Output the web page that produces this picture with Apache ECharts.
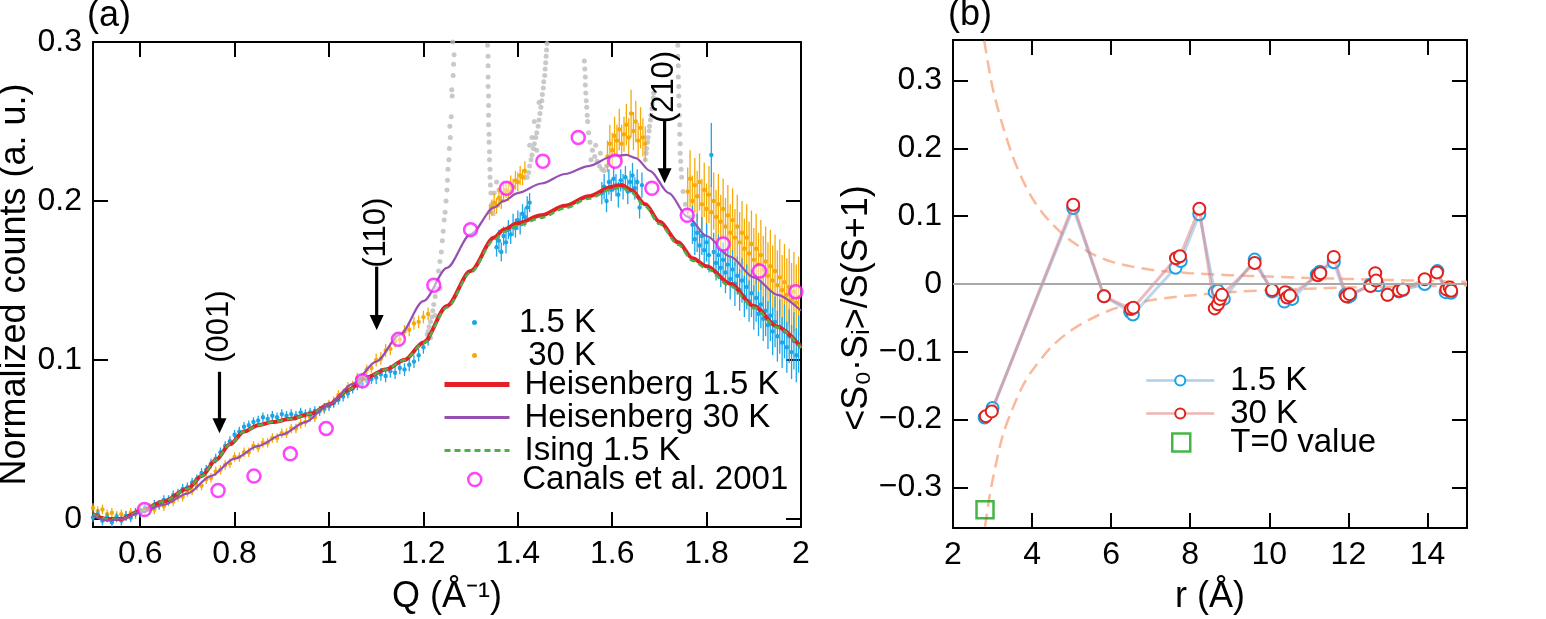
<!DOCTYPE html>
<html>
<head>
<meta charset="utf-8">
<title>Normalized counts and spin correlations</title>
<script src="https://cdn.jsdelivr.net/npm/echarts@6/dist/echarts.min.js"></script>
<style>
  html, body { margin: 0; padding: 0; background: #fff; }
  #chart { width: 1546px; height: 619px; }
</style>
</head>
<body>
<div id="chart"></div>
<script>
// ---- panel (a): tick values
const qTicks = [0.6, 0.8, 1, 1.2, 1.4, 1.6, 1.8, 2];
const countTicks = [0, 0.1, 0.2, 0.3];

// 1.5 K data [Q, counts, error]
const blue15 = [
  [0.50,0.001,0.003],[0.51,0.003,0.003],[0.52,-0.001,0.003],[0.53,0.001,0.003],[0.54,-0.002,0.003],
  [0.55,0.001,0.003],[0.56,-0.001,0.003],[0.57,0.002,0.003],[0.58,0.001,0.003],[0.59,0.004,0.003],
  [0.60,0.004,0.003],[0.61,0.007,0.003],[0.62,0.006,0.003],[0.63,0.009,0.003],[0.64,0.009,0.003],
  [0.65,0.012,0.003],[0.66,0.012,0.003],[0.67,0.015,0.003],[0.68,0.016,0.003],[0.69,0.019,0.003],
  [0.70,0.020,0.003],[0.71,0.023,0.003],[0.72,0.025,0.003],[0.73,0.029,0.003],[0.74,0.031,0.003],
  [0.75,0.035,0.003],[0.76,0.038,0.003],[0.77,0.042,0.003],[0.78,0.046,0.003],[0.79,0.049,0.003],
  [0.80,0.053,0.003],[0.81,0.055,0.003],[0.82,0.058,0.003],[0.83,0.059,0.003],[0.84,0.061,0.003],
  [0.85,0.062,0.003],[0.86,0.064,0.003],[0.87,0.063,0.003],[0.88,0.065,0.003],[0.89,0.064,0.003],
  [0.90,0.066,0.003],[0.91,0.065,0.003],[0.92,0.066,0.003],[0.93,0.065,0.003],[0.94,0.067,0.003],
  [0.95,0.066,0.003],[0.96,0.067,0.003],[0.97,0.068,0.003],[0.98,0.068,0.003],[0.99,0.070,0.003],
  [1.00,0.071,0.003],[1.01,0.073,0.003],[1.02,0.075,0.003],[1.03,0.077,0.003],[1.04,0.079,0.003],
  [1.05,0.082,0.003],[1.06,0.084,0.003],[1.07,0.085,0.003],[1.08,0.087,0.003],[1.09,0.088,0.003],
  [1.10,0.089,0.004],[1.11,0.091,0.004],[1.12,0.090,0.004],[1.13,0.093,0.004],[1.14,0.092,0.004],
  [1.15,0.095,0.004],[1.16,0.094,0.004],[1.17,0.097,0.004],[1.18,0.099,0.004],[1.19,0.103,0.004],
  [1.20,0.108,0.004],[1.21,0.113,0.004],
  [1.355,0.171,0.006],[1.36,0.175,0.007],[1.365,0.168,0.006],[1.37,0.178,0.006],[1.375,0.174,0.007],
  [1.38,0.182,0.006],[1.385,0.179,0.006],[1.39,0.185,0.007],[1.395,0.183,0.006],[1.40,0.188,0.006],
  [1.405,0.186,0.007],[1.41,0.192,0.006],[1.415,0.190,0.006],[1.42,0.196,0.007],[1.425,0.199,0.006],
  [1.578,0.205,0.007],[1.583,0.209,0.008],[1.588,0.200,0.007],[1.593,0.212,0.008],[1.598,0.207,0.007],
  [1.603,0.214,0.008],[1.608,0.210,0.007],[1.613,0.204,0.008],[1.618,0.213,0.007],[1.623,0.209,0.008],
  [1.628,0.215,0.007],[1.633,0.206,0.008],[1.638,0.212,0.007],[1.643,0.216,0.008],[1.648,0.208,0.007],
  [1.653,0.212,0.008],[1.658,0.196,0.007],[1.663,0.210,0.008],
  [1.77,0.185,0.012],[1.775,0.176,0.010],[1.78,0.180,0.012],[1.785,0.172,0.011],[1.79,0.178,0.012],
  [1.795,0.169,0.010],[1.80,0.174,0.012],[1.805,0.166,0.011],[1.81,0.229,0.020],[1.815,0.168,0.012],
  [1.82,0.161,0.011],[1.825,0.166,0.013],[1.83,0.158,0.012],[1.835,0.163,0.011],[1.84,0.155,0.013],
  [1.845,0.160,0.012],[1.85,0.151,0.013],[1.855,0.157,0.012],[1.86,0.148,0.014],[1.865,0.153,0.012],
  [1.87,0.144,0.013],[1.875,0.150,0.014],[1.88,0.140,0.013],[1.885,0.146,0.014],[1.89,0.137,0.013],
  [1.895,0.142,0.015],[1.90,0.133,0.014],[1.905,0.139,0.015],[1.91,0.129,0.014],[1.915,0.135,0.015],
  [1.92,0.126,0.014],[1.925,0.131,0.016],[1.93,0.122,0.015],[1.935,0.128,0.016],[1.94,0.118,0.015],
  [1.945,0.124,0.016],[1.95,0.115,0.016],[1.955,0.121,0.017],[1.96,0.111,0.016],[1.965,0.118,0.017],
  [1.97,0.108,0.016],[1.975,0.115,0.017],[1.98,0.105,0.017],[1.985,0.112,0.018],[1.99,0.103,0.017],
  [1.995,0.110,0.018]
];

// 30 K data [Q, counts, error]
const orange30 = [
  [0.50,0.007,0.003],[0.51,0.005,0.003],[0.52,0.006,0.003],[0.53,0.003,0.003],[0.54,0.004,0.003],
  [0.55,0.002,0.003],[0.56,0.003,0.003],[0.57,0.002,0.003],[0.58,0.004,0.003],[0.59,0.003,0.003],
  [0.60,0.006,0.003],[0.61,0.005,0.003],[0.62,0.007,0.003],[0.63,0.006,0.003],[0.64,0.009,0.003],
  [0.65,0.008,0.003],[0.66,0.011,0.003],[0.67,0.011,0.003],[0.68,0.014,0.003],[0.69,0.014,0.003],
  [0.70,0.017,0.003],[0.71,0.018,0.003],[0.72,0.021,0.003],[0.73,0.021,0.003],[0.74,0.025,0.003],
  [0.75,0.026,0.003],[0.76,0.030,0.003],[0.77,0.031,0.003],[0.78,0.034,0.003],[0.79,0.035,0.003],
  [0.80,0.039,0.003],[0.81,0.039,0.003],[0.82,0.042,0.003],[0.83,0.042,0.003],[0.84,0.046,0.003],
  [0.85,0.045,0.003],[0.86,0.048,0.003],[0.87,0.048,0.003],[0.88,0.051,0.003],[0.89,0.051,0.003],
  [0.90,0.054,0.003],[0.91,0.054,0.003],[0.92,0.057,0.003],[0.93,0.057,0.003],[0.94,0.060,0.003],
  [0.95,0.061,0.003],[0.96,0.064,0.003],[0.97,0.064,0.003],[0.98,0.068,0.003],[0.99,0.069,0.003],
  [1.00,0.072,0.003],[1.01,0.074,0.003],[1.02,0.078,0.003],[1.03,0.079,0.003],[1.04,0.083,0.003],
  [1.05,0.084,0.003],[1.06,0.089,0.003],[1.07,0.089,0.003],[1.08,0.094,0.003],[1.09,0.095,0.003],
  [1.10,0.100,0.004],[1.11,0.101,0.004],[1.12,0.106,0.004],[1.13,0.107,0.004],[1.14,0.112,0.004],
  [1.15,0.113,0.004],[1.16,0.118,0.004],[1.17,0.119,0.004],[1.18,0.123,0.004],[1.19,0.124,0.004],
  [1.20,0.127,0.004],[1.21,0.129,0.004],
  [1.34,0.193,0.005],[1.345,0.196,0.005],[1.35,0.199,0.006],[1.355,0.197,0.005],[1.36,0.202,0.006],
  [1.365,0.200,0.005],[1.37,0.205,0.006],[1.375,0.207,0.005],[1.38,0.206,0.006],[1.385,0.210,0.006],
  [1.39,0.209,0.005],[1.395,0.213,0.006],[1.40,0.212,0.006],[1.405,0.216,0.006],[1.41,0.215,0.005],
  [1.415,0.219,0.006],
  [1.59,0.228,0.010],[1.595,0.236,0.012],[1.60,0.232,0.011],[1.605,0.241,0.012],[1.61,0.238,0.010],
  [1.615,0.245,0.013],[1.62,0.236,0.012],[1.625,0.242,0.011],[1.63,0.248,0.013],[1.635,0.240,0.012],
  [1.64,0.255,0.015],[1.645,0.244,0.012],[1.65,0.250,0.013],[1.655,0.238,0.011],[1.66,0.246,0.013],
  [1.665,0.240,0.012],[1.67,0.236,0.011],
  [1.76,0.206,0.015],[1.765,0.214,0.018],[1.77,0.200,0.016],[1.775,0.210,0.017],[1.78,0.203,0.016],
  [1.785,0.212,0.018],[1.79,0.198,0.016],[1.795,0.207,0.017],[1.80,0.195,0.016],[1.805,0.204,0.018],
  [1.81,0.193,0.017],[1.815,0.200,0.018],[1.82,0.190,0.017],[1.825,0.198,0.019],[1.83,0.187,0.017],
  [1.835,0.195,0.019],[1.84,0.184,0.018],[1.845,0.191,0.019],[1.85,0.180,0.018],[1.855,0.188,0.020],
  [1.86,0.177,0.018],[1.865,0.184,0.020],[1.87,0.174,0.019],[1.875,0.180,0.020],[1.88,0.170,0.019],
  [1.885,0.177,0.021],[1.89,0.167,0.020],[1.895,0.173,0.021],[1.90,0.163,0.020],[1.905,0.170,0.022],
  [1.91,0.160,0.020],[1.915,0.166,0.022],[1.92,0.157,0.021],[1.925,0.162,0.022],[1.93,0.153,0.021],
  [1.935,0.159,0.023],[1.94,0.150,0.022],[1.945,0.156,0.023],[1.95,0.147,0.022],[1.955,0.152,0.024],
  [1.96,0.144,0.022],[1.965,0.149,0.024],[1.97,0.141,0.023],[1.975,0.146,0.024],[1.98,0.138,0.023],
  [1.985,0.143,0.025],[1.99,0.136,0.024],[1.995,0.140,0.025]
];

// excluded points near Bragg peaks (grey)
const braggPts = [
  [1.205,0.112],[1.208,0.116],[1.21,0.118],[1.212,0.121],[1.215,0.124],[1.218,0.127],[1.22,0.131],
  [1.222,0.135],[1.225,0.140],[1.228,0.145],[1.23,0.150],[1.232,0.156],[1.235,0.162],[1.238,0.168],
  [1.24,0.175],[1.242,0.181],[1.244,0.188],[1.246,0.193],[1.248,0.200],[1.25,0.207],[1.251,0.213],
  [1.252,0.220],[1.254,0.226],[1.255,0.233],[1.256,0.247],[1.257,0.240],[1.259,0.253],[1.26,0.270],
  [1.261,0.266],[1.262,0.300],[1.263,0.279],[1.264,0.286],[1.265,0.292],[1.215,0.114],[1.225,0.128],
  [1.235,0.145],
  [1.336,0.298],[1.337,0.291],[1.337,0.285],[1.337,0.278],[1.337,0.272],[1.338,0.266],[1.338,0.260],
  [1.338,0.254],[1.338,0.248],[1.339,0.242],[1.339,0.237],[1.34,0.231],[1.34,0.226],[1.341,0.220],
  [1.341,0.215],[1.343,0.205],[1.342,0.210],[1.345,0.198],[1.348,0.192],[1.35,0.205],[1.355,0.212],[1.36,0.207],
  [1.42,0.215],[1.423,0.218],[1.425,0.222],[1.428,0.226],[1.43,0.229],[1.433,0.233],[1.435,0.236],
  [1.438,0.240],[1.44,0.243],[1.443,0.247],[1.445,0.251],[1.447,0.255],[1.449,0.259],[1.451,0.263],
  [1.452,0.267],[1.454,0.271],[1.455,0.275],[1.457,0.279],[1.458,0.283],[1.459,0.287],[1.46,0.291],
  [1.461,0.295],[1.462,0.299],[1.43,0.240],[1.44,0.232],[1.435,0.250],[1.425,0.235],[1.445,0.262],
  [1.541,0.288],[1.542,0.283],[1.543,0.278],[1.543,0.273],[1.544,0.268],[1.545,0.263],[1.546,0.259],
  [1.547,0.254],[1.548,0.250],[1.55,0.243],[1.553,0.237],[1.558,0.232],[1.563,0.228],[1.568,0.225],
  [1.573,0.222],[1.578,0.220],[1.583,0.219],[1.588,0.222],[1.555,0.226],[1.565,0.235],[1.575,0.230],
  [1.67,0.226],[1.672,0.230],[1.673,0.233],[1.675,0.237],[1.676,0.240],[1.678,0.244],[1.679,0.247],
  [1.681,0.251],[1.682,0.254],[1.684,0.258],[1.685,0.261],[1.687,0.265],[1.688,0.268],
  [1.739,0.298],[1.739,0.291],[1.74,0.285],[1.74,0.278],[1.741,0.272],[1.741,0.266],[1.742,0.260],
  [1.742,0.254],[1.743,0.248],[1.743,0.242],[1.744,0.236],[1.744,0.230],[1.745,0.225],[1.746,0.220],
  [1.747,0.215],[1.75,0.206],[1.755,0.198],[1.76,0.194],[1.765,0.190]
];

// model curves [Q, counts]
const heis15 = [
  [0.5,0.003],[0.53,0.0],[0.56,0.0],[0.6,0.005],[0.65,0.011],[0.7,0.019],[0.73,0.027],[0.76,0.037],
  [0.79,0.047],[0.82,0.055],[0.85,0.059],[0.88,0.061],[0.92,0.063],[0.96,0.066],[1.0,0.072],
  [1.04,0.081],[1.08,0.089],[1.12,0.094],[1.16,0.100],[1.2,0.111],[1.25,0.134],[1.3,0.156],
  [1.35,0.177],[1.37,0.182],[1.4,0.186],[1.45,0.191],[1.5,0.197],[1.55,0.203],[1.6,0.209],
  [1.62,0.210],[1.64,0.207],[1.67,0.198],[1.7,0.187],[1.74,0.174],[1.77,0.164],[1.8,0.159],
  [1.85,0.148],[1.9,0.134],[1.95,0.121],[2.0,0.108]
];
const heis30 = [
  [0.5,0.002],[0.53,-0.001],[0.56,0.0],[0.6,0.004],[0.65,0.009],[0.7,0.016],[0.75,0.027],[0.8,0.038],
  [0.85,0.046],[0.9,0.053],[0.95,0.061],[1.0,0.072],[1.05,0.085],[1.1,0.099],[1.15,0.116],
  [1.2,0.137],[1.25,0.158],[1.3,0.179],[1.35,0.196],[1.37,0.200],[1.4,0.205],[1.45,0.211],
  [1.5,0.217],[1.55,0.222],[1.6,0.228],[1.63,0.229],[1.65,0.227],[1.68,0.219],[1.72,0.205],
  [1.76,0.190],[1.8,0.178],[1.85,0.165],[1.9,0.152],[1.95,0.141],[2.0,0.131]
];
const ising15 = [
  [0.5,0.003],[0.53,0.0],[0.56,0.0],[0.6,0.005],[0.65,0.011],[0.7,0.019],[0.73,0.027],[0.76,0.037],
  [0.79,0.047],[0.82,0.055],[0.85,0.059],[0.88,0.061],[0.92,0.063],[0.96,0.066],[1.0,0.072],
  [1.04,0.081],[1.08,0.089],[1.12,0.094],[1.16,0.100],[1.2,0.1105],[1.25,0.133],[1.3,0.155],
  [1.35,0.1755],[1.37,0.1805],[1.4,0.1845],[1.45,0.1895],[1.5,0.1955],[1.55,0.2015],[1.6,0.2075],
  [1.62,0.2085],[1.64,0.2055],[1.67,0.1965],[1.7,0.1855],[1.74,0.1725],[1.77,0.1625],[1.8,0.1575],
  [1.85,0.1465],[1.9,0.133],[1.95,0.1205],[2.0,0.1075]
];
const canals2001 = [
  [0.609,0.006],[0.765,0.018],[0.841,0.027],[0.918,0.041],[0.994,0.057],[1.071,0.087],[1.147,0.113],
  [1.222,0.147],[1.30,0.182],[1.376,0.208],[1.453,0.225],[1.528,0.240],[1.606,0.225],[1.684,0.208],
  [1.759,0.191],[1.835,0.173],[1.912,0.156],[1.989,0.143]
];
// Bragg positions: [Q, arrow tail, arrow tip, label centre]
const braggArrows = [[0.768, 0.0926, 0.0539, 0.121], [1.101, 0.1587, 0.1189, 0.180], [1.711, 0.251, 0.2111, 0.2717]];
const braggLabels = ['(001)', '(110)', '(210)'];

// ---- panel (b)
const rTicks = [2, 4, 6, 8, 10, 12, 14];
const corrTicks = [-0.3, -0.2, -0.1, 0, 0.1, 0.2, 0.3];
const corr15 = [
  [2.8,-0.197],[3.0,-0.183],[5.04,0.112],[5.82,-0.018],[6.48,-0.041],[6.55,-0.045],[7.63,0.024],
  [7.76,0.034],[8.23,0.103],[8.62,-0.012],[8.7,-0.010],[8.8,-0.019],[8.85,-0.022],[9.63,0.036],
  [10.07,-0.011],[10.38,-0.026],[10.45,-0.013],[10.58,-0.022],[11.2,0.014],[11.28,0.018],
  [11.63,0.032],[11.92,-0.016],[12.0,-0.019],[12.05,-0.017],[12.55,-0.001],[12.75,-0.002],
  [12.99,-0.016],[13.28,-0.011],[13.38,-0.009],[13.93,0.0],[14.25,0.019],[14.46,-0.012],[14.6,-0.013]
];
const corr30 = [
  [2.83,-0.195],[2.98,-0.188],[5.04,0.117],[5.82,-0.018],[6.5,-0.037],[6.56,-0.035],[7.64,0.038],
  [7.74,0.041],[8.23,0.111],[8.62,-0.036],[8.7,-0.030],[8.75,-0.022],[8.8,-0.016],[9.63,0.031],
  [10.07,-0.009],[10.4,-0.012],[10.45,-0.020],[10.52,-0.017],[11.23,0.013],[11.29,0.016],
  [11.63,0.040],[11.95,-0.018],[12.03,-0.015],[12.56,-0.003],[12.68,0.016],[12.7,0.005],
  [12.99,-0.016],[13.28,-0.010],[13.38,-0.008],[13.93,0.007],[14.24,0.017],[14.48,-0.008],
  [14.56,-0.005],[14.6,-0.010]
];
const t0Value = [[2.81, -0.333]];
const envUpper = [
  [2.79,0.359],[3.0,0.290],[3.25,0.235],[3.5,0.190],[3.75,0.155],[4.0,0.127],[4.25,0.106],
  [4.5,0.089],[4.75,0.075],[5.0,0.063],[5.5,0.045],[6.0,0.033],[6.5,0.026],[7.0,0.021],[7.5,0.018],
  [8.0,0.016],[9.0,0.013],[10.0,0.011],[11.0,0.009],[12.0,0.0075],[13.0,0.006],[14.0,0.0045],[15.0,0.003]
];
const envLower = [
  [2.81,-0.358],[2.9,-0.322],[3.0,-0.290],[3.25,-0.225],[3.5,-0.185],[3.75,-0.152],[4.0,-0.128],
  [4.5,-0.092],[5.0,-0.068],[5.5,-0.051],[6.0,-0.038],[6.5,-0.030],[7.0,-0.024],[7.5,-0.020],
  [8.0,-0.017],[9.0,-0.012],[10.0,-0.009],[11.0,-0.007],[12.0,-0.005],[13.0,-0.004],[14.0,-0.003],[15.0,-0.002]
];

const legendText = {
  blue15: '1.5 K', orange30: ' 30 K', heis15: 'Heisenberg 1.5 K', heis30: 'Heisenberg 30 K',
  ising15: 'Ising 1.5 K', canals: 'Canals et al. 2001', corr15: '1.5 K', corr30: '30 K', t0: 'T=0 value'
};

const FONT = 'Liberation Sans';
const BLUE = '#1ba6e8';
const ORANGE = '#f5aa0a';
const RED = '#e41f26';
const PURPLE = '#9650b4';
const GREEN = '#4fae46';
const MAGENTA = '#ff14ff';
const RING_RED = '#e3211c';
const RING_BLUE = '#1aa2e6';

const chart = echarts.init(document.getElementById('chart'));

function trimNum(v) { return String(Math.round(v * 1000) / 1000); }
function signed(v) { return v < 0 ? '\u2212' + trimNum(-v) : trimNum(v); }

function axis(grid, pos, min, max, ticks, labels, fmt, extra) {
  return Object.assign({
    gridIndex: grid, type: 'value', position: pos, min: min, max: max,
    axisLine: { onZero: false, lineStyle: { color: '#000', width: 2 } },
    axisTick: { inside: true, length: 15, customValues: ticks, lineStyle: { color: '#000', width: 2 } },
    axisLabel: labels ? { customValues: ticks, formatter: fmt, fontSize: 32, color: '#000', fontFamily: FONT, margin: 11 } : { show: false },
    splitLine: { show: false }
  }, extra || {});
}

const nameStyle = { fontSize: 36, color: '#000', fontFamily: FONT };

// error bars with a dot in the centre
function errSeries(name, data, color, z) {
  return {
    type: 'custom', name: name, xAxisIndex: 0, yAxisIndex: 0, data: data, z: z, silent: true,
    itemStyle: { color: color },
    encode: { x: 0, y: 1 },
    renderItem: function (params, api) {
      const q = api.value(0), v = api.value(1), e = api.value(2);
      const lo = api.coord([q, v - e]), hi = api.coord([q, v + e]), c = api.coord([q, v]);
      return {
        type: 'group', children: [
          { type: 'line', shape: { x1: lo[0], y1: lo[1], x2: hi[0], y2: hi[1] }, style: { stroke: color, lineWidth: 1.3 } },
          { type: 'circle', shape: { cx: c[0], cy: c[1], r: 2.2 }, style: { fill: color } }
        ]
      };
    }
  };
}

const noSymbol = { color: 'transparent', borderColor: 'transparent', borderWidth: 0 };
const legendBase = {
  orient: 'vertical', itemGap: 0, padding: 0, selectedMode: false,
  formatter: function (n) { return legendText[n]; }
};
function legendFont(pad) {
  return { fontSize: 33, lineHeight: 31, color: '#000', fontFamily: FONT, padding: [0, 0, 0, pad] };
}

const option = {
  animation: false,
  backgroundColor: '#fff',
  textStyle: { fontFamily: FONT },
  title: [
    { text: '(a)', left: 87, top: -2, padding: 0, textStyle: { fontSize: 36, fontWeight: 'normal', color: '#000', fontFamily: FONT } },
    { text: '(b)', left: 948, top: -3, padding: 0, textStyle: { fontSize: 36, fontWeight: 'normal', color: '#000', fontFamily: FONT } }
  ],
  grid: [
    { left: 93, top: 42, width: 708, height: 485, outerBoundsMode: 'none' },
    { left: 953, top: 40, width: 514, height: 488, outerBoundsMode: 'none' }
  ],
  xAxis: [
    axis(0, 'bottom', 0.5, 2, qTicks, true, trimNum, { name: 'Q (\u00c5\u207b\u00b9)', nameLocation: 'middle', nameGap: 52, nameTextStyle: nameStyle }),
    axis(0, 'top', 0.5, 2, qTicks, false),
    axis(1, 'bottom', 2, 15, rTicks, true, trimNum, { name: 'r (\u00c5)', nameLocation: 'middle', nameGap: 51, nameTextStyle: nameStyle }),
    axis(1, 'top', 2, 15, rTicks, false)
  ],
  yAxis: [
    axis(0, 'left', -0.005, 0.3, countTicks, true, trimNum, { name: 'Normalized counts (a. u.)', nameLocation: 'middle', nameGap: 60, nameTextStyle: nameStyle }),
    axis(0, 'right', -0.005, 0.3, countTicks, false),
    axis(1, 'left', -0.36, 0.36, corrTicks, true, signed, { name: '<S\u2080\u00b7S\u1d62>/S(S+1)', nameLocation: 'middle', nameGap: 78, nameTextStyle: Object.assign({ padding: [0, 48, 0, 0] }, nameStyle) }),
    axis(1, 'right', -0.36, 0.36, corrTicks, false)
  ],
  legend: [
    Object.assign({ left: 472, top: 306, itemWidth: 65, itemHeight: 5, textStyle: legendFont(7),
      data: [{ name: 'blue15', icon: 'circle', itemStyle: { color: BLUE } }, { name: 'orange30', icon: 'circle', itemStyle: { color: ORANGE } }] }, legendBase),
    Object.assign({ left: 442, top: 368, itemWidth: 65, itemHeight: 10, textStyle: legendFont(10),
      data: [
        { name: 'heis15', itemStyle: noSymbol, lineStyle: { width: 5, color: RED } },
        { name: 'heis30', itemStyle: noSymbol, lineStyle: { width: 3, color: PURPLE } },
        { name: 'ising15', itemStyle: noSymbol, lineStyle: { width: 3, color: GREEN, type: [6, 4] } }
      ] }, legendBase),
    Object.assign({ left: 467, top: 463, itemWidth: 65, itemHeight: 13, textStyle: legendFont(10),
      data: [{ name: 'canals', itemStyle: { color: '#fff', borderColor: MAGENTA, borderWidth: 2.5 } }] }, legendBase),
    Object.assign({ left: 1145, top: 364, itemWidth: 68, itemHeight: 12.5, textStyle: legendFont(11),
      data: [
        { name: 'corr15', itemStyle: { color: '#fff', borderColor: RING_BLUE, borderWidth: 2 }, lineStyle: { width: 2.5, color: 'rgba(120,175,220,0.6)' } },
        { name: 'corr30', itemStyle: { color: '#fff', borderColor: RING_RED, borderWidth: 2 }, lineStyle: { width: 2.5, color: 'rgba(230,130,130,0.6)' } }
      ] }, legendBase),
    Object.assign({ left: 1171, top: 426, itemWidth: 18, itemHeight: 18, textStyle: legendFont(35),
      data: [{ name: 't0', itemStyle: { color: 'transparent', borderColor: '#17a317', borderWidth: 2.5 } }] }, legendBase)
  ],
  series: [
    // ---- panel (a)
    { type: 'scatter', name: 'bragg', xAxisIndex: 0, yAxisIndex: 0, data: braggPts, symbolSize: 5, silent: true,
      itemStyle: { color: '#bcbcbc' }, z: 1 },
    errSeries('orange30', orange30, ORANGE, 2),
    errSeries('blue15', blue15, BLUE, 3),
    { type: 'line', name: 'heis15', xAxisIndex: 0, yAxisIndex: 0, data: heis15, symbol: 'none', smooth: 0.3, smoothMonotone: 'x',
      lineStyle: { color: RED, width: 4 }, itemStyle: { color: RED }, z: 4 },
    { type: 'line', name: 'ising15', xAxisIndex: 0, yAxisIndex: 0, data: ising15, symbol: 'none', smooth: 0.3, smoothMonotone: 'x',
      lineStyle: { color: GREEN, width: 2.5, type: [6, 4] }, itemStyle: { color: GREEN }, z: 5 },
    { type: 'line', name: 'heis30', xAxisIndex: 0, yAxisIndex: 0, data: heis30, symbol: 'none', smooth: 0.3, smoothMonotone: 'x',
      lineStyle: { color: PURPLE, width: 2.2 }, itemStyle: { color: PURPLE }, z: 5 },
    { type: 'scatter', name: 'canals', xAxisIndex: 0, yAxisIndex: 0, data: canals2001, symbol: 'circle', symbolSize: 13,
      itemStyle: { color: 'rgba(255,255,255,0.6)', borderColor: MAGENTA, borderWidth: 2.5 }, z: 6 },
    { type: 'custom', name: 'arrows', xAxisIndex: 0, yAxisIndex: 0, data: braggArrows, z: 7, silent: true,
      encode: { x: 0, y: 1 },
      renderItem: function (params, api) {
        const q = api.value(0);
        const tail = api.coord([q, api.value(1)]);
        const tip = api.coord([q, api.value(2)]);
        const lab = api.coord([q, api.value(3)]);
        return {
          type: 'group', children: [
            { type: 'line', shape: { x1: tail[0], y1: tail[1], x2: tip[0], y2: tip[1] - 12 }, style: { stroke: '#000', lineWidth: 3.2 } },
            { type: 'polygon', shape: { points: [[tip[0] - 7, tip[1] - 15], [tip[0] + 7, tip[1] - 15], [tip[0], tip[1]]] }, style: { fill: '#000' } },
            { type: 'text', x: lab[0], y: lab[1], rotation: Math.PI / 2,
              style: { text: braggLabels[params.dataIndex], fill: '#000', fontSize: 31, fontFamily: FONT, align: 'center', verticalAlign: 'middle' } }
          ]
        };
      } },
    // ---- panel (b)
    { type: 'line', name: 'envUpper', xAxisIndex: 2, yAxisIndex: 2, data: envUpper, symbol: 'none', smooth: 0.3, silent: true,
      lineStyle: { color: '#f9b99b', width: 2.5, type: [13, 7] }, z: 1,
      markLine: { silent: true, symbol: 'none', label: { show: false }, data: [{ yAxis: 0 }],
        lineStyle: { color: '#a8a8a8', width: 2, type: 'solid' } } },
    { type: 'line', name: 'envLower', xAxisIndex: 2, yAxisIndex: 2, data: envLower, symbol: 'none', smooth: 0.3, silent: true,
      lineStyle: { color: '#f9b99b', width: 2.5, type: [13, 7] }, z: 1 },
    { type: 'line', name: 'corr15', xAxisIndex: 2, yAxisIndex: 2, data: corr15, symbol: 'circle', symbolSize: 12,
      lineStyle: { color: 'rgba(120,175,220,0.5)', width: 3 },
      itemStyle: { color: '#fff', borderColor: RING_BLUE, borderWidth: 2 }, z: 3 },
    { type: 'line', name: 'corr30', xAxisIndex: 2, yAxisIndex: 2, data: corr30, symbol: 'circle', symbolSize: 12,
      lineStyle: { color: 'rgba(215,120,130,0.5)', width: 3 },
      itemStyle: { color: '#fff', borderColor: RING_RED, borderWidth: 2 }, z: 4 },
    { type: 'scatter', name: 't0', xAxisIndex: 2, yAxisIndex: 2, data: t0Value, symbol: 'rect', symbolSize: 17,
      itemStyle: { color: 'transparent', borderColor: '#17a317', borderWidth: 2.5 }, z: 5 }
  ]
};

chart.setOption(option);
</script>
</body>
</html>
